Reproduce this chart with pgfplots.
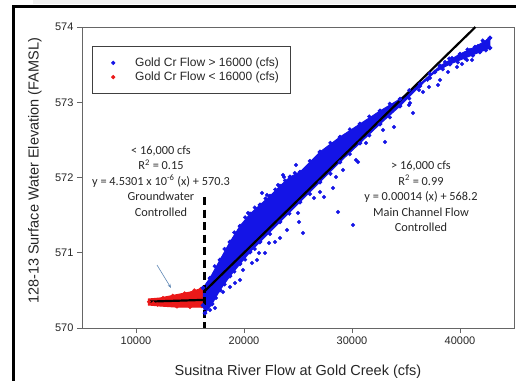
\documentclass[border=0pt]{standalone}
\usepackage{pgfplots}
\pgfplotsset{compat=1.18}
\usetikzlibrary{arrows.meta}
\usepackage{fontspec}
\setmainfont{Liberation Sans}
\newfontfamily\calibri{Carlito}
\definecolor{pblue}{RGB}{20,20,230}
\definecolor{pred}{RGB}{235,25,25}
\definecolor{arrowc}{RGB}{95,135,180}
\begin{document}
\begin{tikzpicture}[x=1pt,y=1pt]
\useasboundingbox (0,0) rectangle (516,381);
\fill[black!6] (33,377) rectangle (490,381);
\fill[black] (12,373) rectangle (516,376);
\fill[black] (12,0) rectangle (15,376);
\begin{axis}[
  at={(82pt,53pt)}, anchor=south west,
  scale only axis, width=432pt, height=301pt,
  xmin=5000, xmax=45000, ymin=570, ymax=574,
  xtick={10000,20000,30000,40000},
  ytick={570,571,572,573,574},
  scaled x ticks=false,
  /pgf/number format/1000 sep={},
  /pgf/number format/assume math mode=true,
  tick align=outside, major tick length=5pt,
  xtick pos=bottom, ytick pos=left,
  axis line style={black!60, line width=0.8pt},
  tick style={black!60, line width=0.8pt},
  ticklabel style={font=\fontsize{11}{13}\selectfont, text=black!85},
  xlabel={Susitna River Flow at Gold Creek (cfs)},
  ylabel={128-13 Surface Water Elevation (FAMSL)},
  label style={font=\fontsize{14.5}{16}\selectfont, text=black!85},
  xlabel style={at={(axis description cs:0.5,-0.146)}, anchor=center},
  ylabel style={at={(axis description cs:-0.109,0.522)}, anchor=center},
  clip=false,
  legend style={at={(rel axis cs:0.023,0.937)}, anchor=north west,
    draw=black!75, line width=0.6pt, font=\fontsize{12}{14}\selectfont,
    inner xsep=9pt, inner ysep=9.5pt, row sep=0pt, text=black!85},
  legend cell align=left,
  legend image code/.code={\path[draw=none,fill=none] (0pt,-3pt) rectangle (32pt,3pt); \draw[#1] plot coordinates {(12pt,0pt)};},
]
\addlegendimage{only marks, mark=*, mark size=1.8pt, mark options={fill=pblue, draw=pblue}}
\addlegendentry{Gold Cr Flow > 16000 (cfs)\hspace{8pt}}
\addlegendimage{only marks, mark=*, mark size=1.8pt, mark options={fill=pred, draw=pred}}
\addlegendentry{Gold Cr Flow < 16000 (cfs)\hspace{8pt}}

% red cluster (< 16000 cfs)
\addplot[fill=pred, draw=pred, line width=1pt, forget plot] coordinates {
 (11111,570.385) (12222,570.399) (13611,570.439) (15000,570.478) (16203,570.532)
 (16203,570.279) (15000,570.279) (13611,570.279) (12222,570.292) (11111,570.306)};
\addplot[only marks, mark=*, mark size=1.8pt, mark options={fill=pred, draw=pred}, forget plot] coordinates {
 (11200,570.35) (11600,570.33) (12500,570.40) (13400,570.43) (14500,570.46)
 (15400,570.50) (16000,570.52) (12000,570.31) (13800,570.285) (15000,570.28) (16100,570.29)};

% blue cluster (> 16000 cfs), dense core
\addplot[fill=pblue, draw=pblue, line width=1pt, mark=*, mark size=1.8pt, mark options={fill=pblue, draw=pblue}, forget plot] coordinates {
 (16203,570.532) (16852,570.664) (17777,570.904) (18703,571.143) (19629,571.355)
 (20555,571.515) (21481,571.635) (22407,571.754) (23333,571.887) (24259,572.007)
 (25185,572.073) (27036,572.339) (28888,572.538) (30740,572.711) (32592,572.884)
 (34444,573.043) (36295,573.243) (38147,573.482) (39999,573.641) (41388,573.734)
 (42777,573.854)
 (42777,573.721) (41851,573.668) (40462,573.588) (39073,573.508) (37684,573.402)
 (36295,573.216) (34444,572.950) (32592,572.711) (30740,572.458) (28888,572.206)
 (27036,571.940) (25185,571.674) (23333,571.409) (21481,571.143) (20555,571.010)
 (19629,570.851) (18703,570.691) (17777,570.505) (17037,570.319) (16389,570.199)
 (16203,570.300)};
\addplot[only marks, mark=*, mark size=1.9pt, mark options={fill=pblue, draw=pblue}, forget plot] coordinates {
 (18055,570.478) (18703,570.545) (19166,570.598) (19629,570.638) (19907,570.771)
 (20740,570.864) (21203,570.904) (21944,570.997) (22314,571.130) (22870,571.143)
 (23333,571.196) (23981,571.302) (25462,571.262) (25000,571.528) (25092,571.409)
 (28703,571.542) (30092,571.369) (26481,571.728) (21388,570.997) (21666,571.794)
 (23148,571.900) (22129,571.767) (20370,571.528) (20092,571.369) (23425,571.874)
 (23703,572.007) (24814,572.166) (23611,572.033) (29166,572.100) (30370,572.233)
 (28518,572.007) (27407,571.741) (28240,571.860) (31296,572.458) (32870,572.631)
 (33888,572.671) (30555,572.206) (35277,572.963) (35648,572.857) (36203,573.163)
 (37129,573.203) (37962,573.229) (36573,573.136) (38147,573.296) (39721,573.468)
 (33055,572.472) (27036,571.807) (16852,570.239) (17314,570.266)
 (38610,573.535) (39258,573.588) (40925,573.694) (41666,573.748) (42314,573.787)
 (42592,573.827) (37221,573.322) (38888,573.402) (40184,573.508) (41110,573.561)
 (35370,572.990) (40647,573.561)
 (17300,570.82) (18200,571.05) (19100,571.27) (20100,571.47) (21000,571.60)
 (22000,571.72) (22900,571.84) (23800,571.96) (24700,572.06) (26100,572.22)
 (28000,572.46) (29800,572.64) (31600,572.81) (33500,572.98) (35300,573.16)
 (37200,573.38) (39000,573.58) (40700,573.70) (42100,573.82)
 (17400,570.40) (18200,570.58) (19100,570.75) (20100,570.91) (21000,571.05)
 (22400,571.25) (24200,571.52) (26100,571.78) (28000,572.05) (29800,572.31)
 (31600,572.56) (33500,572.80) (35300,573.05) (37000,573.30) (38400,573.44)
 (39800,573.53) (41200,573.62) (42400,573.69)};

% fit lines
\addplot[black, line width=2.2pt, forget plot] coordinates {(11150,570.3505) (16342,570.374)};
\addplot[black, line width=2.2pt, forget plot] coordinates {(16350,570.489) (41430,574.0)};
\addplot[black, line width=2.2pt, dash pattern=on 8pt off 4.5pt, forget plot] coordinates {(16342,571.74) (16342,570)};

\draw[-{Stealth[length=4pt,width=3pt]}, arrowc, line width=0.6pt] (axis cs:11944,570.837) -- (axis cs:13241,570.532);

\node[font=\calibri\fontsize{12.3}{15.5}\selectfont, align=center, text=black!85] at (axis cs:12315,571.953)
 {< 16,000 cfs\\R\textsuperscript{2} = 0.15\\y = 4.5301 x 10\textsuperscript{-6} (x) + 570.3\\Groundwater\\Controlled};
\node[font=\calibri\fontsize{12.3}{15.5}\selectfont, align=center, text=black!85] at (axis cs:36388,571.747)
 {> 16,000 cfs\\R\textsuperscript{2} = 0.99\\y = 0.00014 (x) + 568.2\\Main Channel Flow\\Controlled};
\end{axis}
\end{tikzpicture}
\end{document}
